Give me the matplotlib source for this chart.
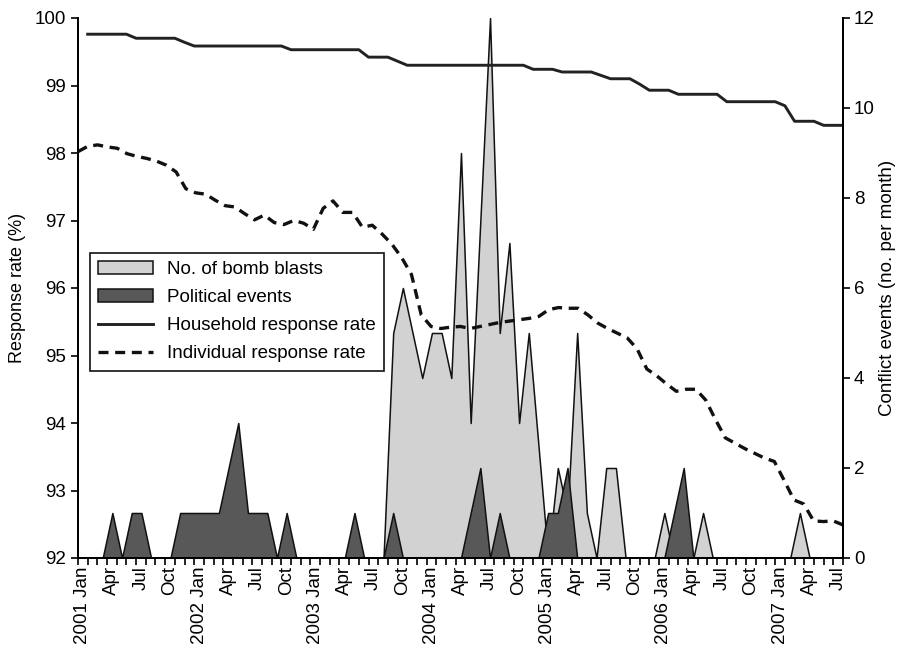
import numpy as np
import matplotlib.pyplot as plt
from matplotlib.patches import Patch
from matplotlib.lines import Line2D

plt.rcParams['font.family'] = ['Liberation Sans', 'DejaVu Sans']

# months Jan 2001 .. Jul 2007
mon_names = ['Jan', 'Feb', 'Mar', 'Apr', 'May', 'Jun',
             'Jul', 'Aug', 'Sep', 'Oct', 'Nov', 'Dec']
months = [(y, m) for y in range(2001, 2008) for m in range(12)][:79]

# household response rate (%)
household = ([99.76] * 5 + [99.70] * 5 + [99.64] + [99.585] * 10 + [99.53] * 8
             + [99.42] * 3 + [99.36] + [99.30] * 13 + [99.24] * 3 + [99.20] * 4
             + [99.15] + [99.10] * 3 + [99.02] + [98.93] * 3 + [98.87] * 5
             + [98.76] * 6 + [98.70] + [98.47] * 3 + [98.41] * 3)

# individual response rate (%)
individual = [98.02, 98.10, 98.12, 98.09, 98.07, 97.99, 97.95, 97.92, 97.88, 97.82,
              97.72, 97.47, 97.41, 97.39, 97.30, 97.22, 97.20, 97.10, 97.01, 97.08,
              96.97, 96.94, 97.00, 96.96, 96.87, 97.18, 97.29, 97.12, 97.12, 96.90,
              96.93, 96.80, 96.65, 96.45, 96.20, 95.60, 95.43, 95.40, 95.42, 95.43,
              95.40, 95.43, 95.46, 95.49, 95.51, 95.53, 95.55, 95.58, 95.68, 95.71,
              95.70, 95.70, 95.60, 95.48, 95.40, 95.33, 95.26, 95.10, 94.80, 94.70,
              94.58, 94.47, 94.50, 94.50, 94.34, 94.05, 93.78, 93.70, 93.62, 93.55,
              93.48, 93.43, 93.15, 92.86, 92.80, 92.55, 92.54, 92.55, 92.49]

# no. of bomb blasts per month
bomb_blasts = ([0] * 32 + [5, 6, 5, 4, 5, 5, 4, 9, 3, 7.5, 12, 5, 7, 3, 5, 2.5, 0,
               2, 1, 5, 1, 0, 2, 2, 0, 0, 0, 0, 1, 0, 0, 0, 1] + [0] * 9 + [1, 0, 0, 0, 0])

# political events per month
political = ([0, 0, 0, 1, 0, 1, 1, 0, 0, 0, 1, 1, 1, 1, 1, 2, 3, 1, 1, 1, 0, 1]
             + [0] * 6 + [1, 0, 0, 0, 1] + [0] * 7 + [1, 2, 0, 1, 0]
             + [0, 0, 0, 1, 1, 2, 0] + [0] * 9 + [1, 2, 0] + [0] * 15)

n = len(months)
x_area = np.arange(n) + 0.55
x_house = np.arange(n) + 1.0
x_indiv = np.linspace(0, n, n)

fig = plt.figure(figsize=(9.01, 6.53), dpi=100)
ax = fig.add_axes([78 / 901, 95 / 653, 765 / 901, 540 / 653])
ax2 = ax.twinx()

ax2.fill_between(x_area, 0, bomb_blasts, facecolor='#d2d2d2', edgecolor='#111111', lw=1.1)
ax2.fill_between(x_area, 0, political, facecolor='#585858', edgecolor='#111111', lw=1.1)

ax.set_zorder(ax2.get_zorder() + 1)
ax.patch.set_visible(False)
ax.plot(x_house, household, color='#222222', lw=2.1, solid_joinstyle='round')
ax.plot(x_indiv, individual, color='#111111', lw=2.4, dashes=(3.0, 2.0))

ax.set_xlim(0, n)
ax.set_ylim(92, 100)
ax2.set_ylim(0, 12)
ax.set_yticks(range(92, 101))
ax2.set_yticks(range(0, 13, 2))

# month boundary ticks and centred labels
ax.set_xticks(np.arange(n + 1), minor=True)
lab_pos = [i + 0.5 for i, (y, m) in enumerate(months) if m % 3 == 0]
lab_txt = [(f'{y} Jan' if m == 0 else mon_names[m]) for (y, m) in months if m % 3 == 0]
ax.set_xticks(lab_pos)
ax.set_xticklabels(lab_txt, rotation=90, fontsize=13.5)
ax.tick_params(axis='x', which='major', length=0, pad=6)
ax.tick_params(axis='x', which='minor', length=5, width=1.2, direction='out')
ax.tick_params(axis='y', labelsize=13.5, length=5, width=1.2)
ax2.tick_params(axis='y', labelsize=13.5, length=5, width=1.2, pad=3)

for a in (ax, ax2):
    a.spines['top'].set_visible(False)
    for s in ('left', 'right', 'bottom'):
        a.spines[s].set_linewidth(1.4)

ax.set_ylabel('Response rate (%)', fontsize=13, labelpad=6)
ax2.set_ylabel('Conflict events (no. per month)', fontsize=13.5, labelpad=3)

handles = [Patch(facecolor='#d2d2d2', edgecolor='#111111', lw=1.1),
           Patch(facecolor='#585858', edgecolor='#111111', lw=1.1),
           Line2D([], [], color='#222222', lw=2.1),
           Line2D([], [], color='#111111', lw=2.4, dashes=(3.0, 2.0))]
labels = ['No. of bomb blasts', 'Political events',
          'Household response rate', 'Individual response rate']
leg = ax.legend(handles, labels, loc='upper left', bbox_to_anchor=(0.0157, 0.565),
                borderaxespad=0, fontsize=13.5, frameon=True, fancybox=False,
                edgecolor='#111111', framealpha=1, handlelength=2.9,
                handleheight=0.7, handletextpad=0.75, labelspacing=0.58,
                borderpad=0.45)
leg.get_frame().set_linewidth(1.2)

fig.savefig('out.png', dpi=100)
